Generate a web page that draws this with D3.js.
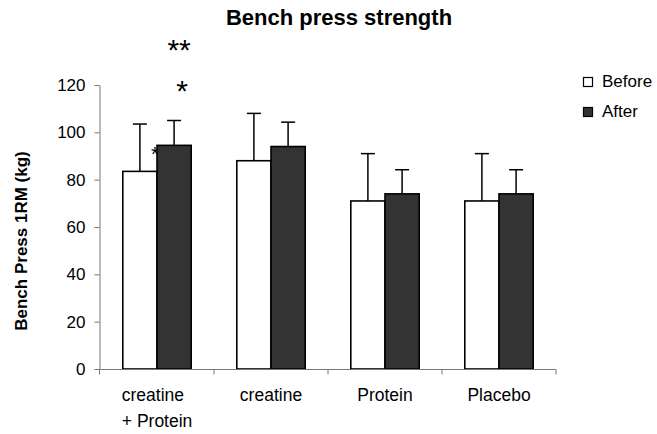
<!DOCTYPE html>
<html><head><meta charset="utf-8">
<script src="https://cdn.jsdelivr.net/npm/d3@7"></script>
<style>body{margin:0;background:#fff}svg{display:block}text{font-family:"Liberation Sans",Arial,sans-serif}</style>
</head><body><svg id="c" width="657" height="434"></svg>
<script>
const categories = [["creatine","+ Protein"],["creatine"],["Protein"],["Placebo"]];
const seriesNames = ["Before","After"];
const before = [83.5, 88, 71, 71];
const after = [94.5, 94, 74, 74];
const beforeErr = [20, 20, 20, 20];
const afterErr = [10.5, 10.3, 10.2, 10.2];
const yTicks = [0,20,40,60,80,100,120];
const colors = ["#ffffff","#333333"];

const svg = d3.select("#c");
const x = d3.scaleBand().domain(d3.range(categories.length)).range([100,556]).paddingInner(0.4).paddingOuter(0.2);
const xs = d3.scaleBand().domain(seriesNames).range([0, x.bandwidth()]);
const y = d3.scaleLinear().domain([0,120]).range([369,85]);

// title
svg.append("text").attr("x",339).attr("y",25).attr("text-anchor","middle")
  .attr("font-size",22).attr("font-weight","bold").text("Bench press strength");

// y axis
const ya = svg.append("g").attr("transform","translate(99.5,0)")
  .call(d3.axisLeft(y).tickValues(yTicks).tickSize(5).tickSizeOuter(0));
ya.select(".domain").attr("stroke","#777");
ya.selectAll(".tick line").attr("stroke","#777");
ya.selectAll("text").attr("font-size",17).attr("fill","#000").attr("font-family","Liberation Sans, Arial, sans-serif").attr("dx","-6");

// y label
svg.append("text").attr("transform","translate(27,241) rotate(-90)").attr("text-anchor","middle")
  .attr("font-size",17).attr("font-weight","bold").text("Bench Press 1RM (kg)");

// small asterisk partly hidden behind bar
svg.append("text").attr("x", x(0)+xs("After")-2).attr("y", y(after[0])+16).attr("text-anchor","middle")
  .attr("font-size",20).text("*");

const data = categories.map((c,i)=>({i, vals:[{s:"Before",v:before[i],e:beforeErr[i]},{s:"After",v:after[i],e:afterErr[i]}]}));

// error bars
data.forEach(d=>{
  d.vals.forEach(b=>{
    const cx = x(d.i)+xs(b.s)+xs.bandwidth()/2;
    svg.append("line").attr("x1",cx).attr("x2",cx).attr("y1",y(b.v)).attr("y2",y(b.v+b.e)).attr("stroke","#000").attr("stroke-width",1.5);
    svg.append("line").attr("x1",cx-7).attr("x2",cx+7).attr("y1",y(b.v+b.e)).attr("y2",y(b.v+b.e)).attr("stroke","#000").attr("stroke-width",1.5);
  });
});

// bars
data.forEach(d=>{
  svg.selectAll(null).data(d.vals).enter().append("rect")
    .attr("x",b=>x(d.i)+xs(b.s)).attr("y",b=>y(b.v)).attr("width",xs.bandwidth()).attr("height",b=>y(0)-y(b.v))
    .attr("fill",(b,k)=>colors[k]).attr("stroke","#000").attr("stroke-width",1.6);
});

// x axis
const xa = svg.append("g").attr("transform","translate(0,369.5)");
xa.append("line").attr("x1",99.5).attr("x2",556).attr("stroke","#777");
const bounds = [99.5].concat(d3.range(categories.length).map(i=>x(i)+x.bandwidth()+x.step()*x.paddingInner()/2));
bounds[bounds.length-1]=556;
bounds.forEach(b=>xa.append("line").attr("x1",b).attr("x2",b).attr("y1",0).attr("y2",5).attr("stroke","#777"));
categories.forEach((c,i)=>{
  const t = svg.append("text").attr("font-size",17.5);
  const cx = x(i)+x.bandwidth()/2;
  c.forEach((line,j)=>{
    t.append("tspan").attr("x", i===0 ? x(i)-1 : cx).attr("text-anchor", i===0?"start":"middle").attr("y",401+j*26).text(line);
  });
});

// asterisks
const ax = x(0)+xs("After")+xs.bandwidth()/2;
svg.append("text").attr("x",ax+5).attr("y",59.5).attr("text-anchor","middle")
  .attr("font-size",30).text("**");
svg.append("text").attr("x",ax+8).attr("y",101).attr("text-anchor","middle")
  .attr("font-size",30).text("*");

// legend
seriesNames.forEach((s,k)=>{
  svg.append("rect").attr("x",583.5).attr("y",77.5+k*30).attr("width",9).attr("height",9)
    .attr("fill",colors[k]).attr("stroke","#000").attr("stroke-width",1.2);
  svg.append("text").attr("x",602).attr("y",87+k*30).attr("font-size",17).text(s);
});
</script></body></html>
